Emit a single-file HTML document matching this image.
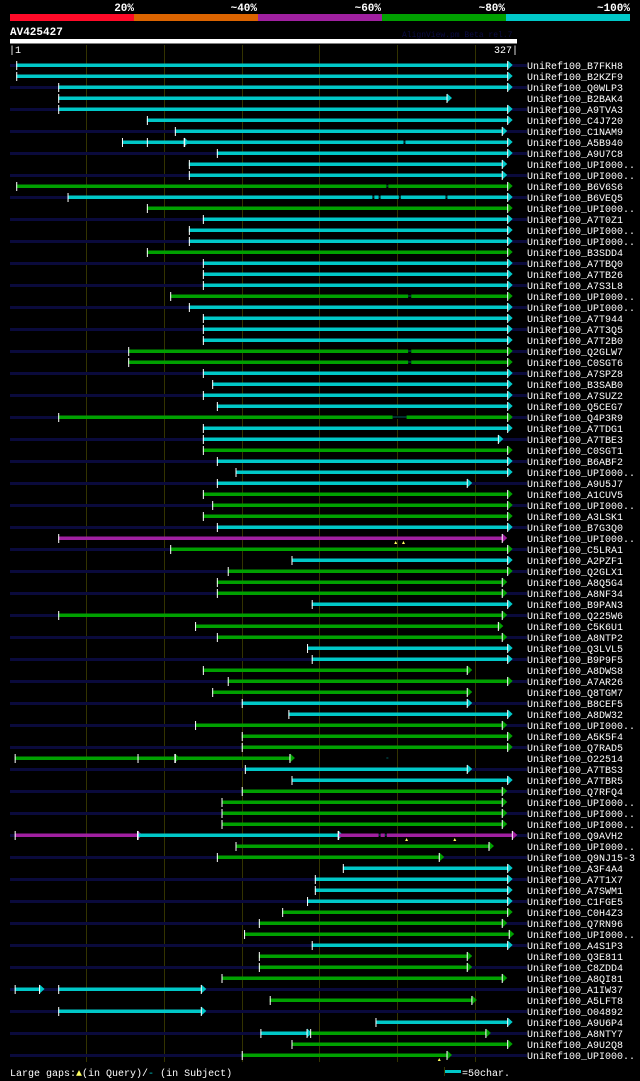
<!DOCTYPE html>
<html><head><meta charset="utf-8"><style>
body{margin:0;background:#000;width:640px;height:1081px;overflow:hidden}
svg{display:block}
text{font-family:"Liberation Mono",monospace;fill:#fff}
</style></head><body>
<svg id="c" width="640" height="1081" xmlns="http://www.w3.org/2000/svg">
<rect x="0" y="0" width="640" height="1081" fill="#000"/>
<g>
<rect x="10" y="14" width="124" height="7" fill="#ff0a28"/>
<rect x="134" y="14" width="124" height="7" fill="#dc6400"/>
<rect x="258" y="14" width="124" height="7" fill="#a020a0"/>
<rect x="382" y="14" width="124" height="7" fill="#00a000"/>
<rect x="506" y="14" width="124" height="7" fill="#00c8c8"/>
<text x="134" y="11" font-size="11" font-weight="bold" text-anchor="end">20%</text>
<text x="257" y="11" font-size="11" font-weight="bold" text-anchor="end">~40%</text>
<text x="381" y="11" font-size="11" font-weight="bold" text-anchor="end">~60%</text>
<text x="505" y="11" font-size="11" font-weight="bold" text-anchor="end">~80%</text>
<text x="630" y="11" font-size="11" font-weight="bold" text-anchor="end">~100%</text>
</g>
<text x="10" y="35" font-size="11" font-weight="bold">AV425427</text>
<text x="402" y="37" font-size="8" style="fill:#0c0c44">AlignView.pm Beta rel.7</text>
<rect x="10" y="39" width="507" height="4.5" fill="#fff"/>
<text x="9" y="53" font-size="10">|1</text>
<text x="518" y="53" font-size="10" text-anchor="end">327|</text>
<g id="grid"></g>
<g id="rows"></g>
<g>
<text x="10" y="1076" font-size="10">Large gaps:<tspan style="fill:#ffff60">▲</tspan>(in Query)/<tspan style="fill:#00c8c8">-</tspan> (in Subject)</text>
<rect x="445" y="1070" width="16" height="3" fill="#00c8c8"/>
<rect x="444" y="1067" width="1" height="9" fill="#333300"/>
<text x="462" y="1076" font-size="10">=50char.</text>
</g>
</svg>
<script>
const names=["B7FKH8","B2KZF9","Q0WLP3","B2BAK4","A9TVA3","C4J720","C1NAM9","A5B940","A9U7C8","UPI000..","UPI000..","B6V6S6","B6VEQ5","UPI000..","A7T0Z1","UPI000..","UPI000..","B3SDD4",
"A7TBQ0","A7TB26","A7S3L8","UPI000..","UPI000..","A7T944","A7T3Q5","A7T2B0","Q2GLW7","C0SGT6","A7SPZ8","B3SAB0","A7SUZ2","Q5CEG7","Q4P3R9","A7TDG1","A7TBE3","C0SGT1",
"B6ABF2","UPI000..","A9U5J7","A1CUV5","UPI000..","A3LSK1","B7G3Q0","UPI000..","C5LRA1","A2PZF1","Q2GLX1","A8Q5G4","A8NF34","B9PAN3","Q225W6","C5K6U1","A8NTP2","Q3LVL5",
"B9P9F5","A8DWS8","A7AR26","Q8TGM7","B8CEF5","A8DW32","UPI000..","A5K5F4","Q7RAD5","O22514","A7TBS3","A7TBR5","Q7RFQ4","UPI000..","UPI000..","UPI000..","Q9AVH2","UPI000..",
"Q9NJ15-3","A3F4A4","A7T1X7","A7SWM1","C1FGE5","C0H4Z3","Q7RN96","UPI000..","A4S1P3","Q3E811","C8ZDD4","A8QI81","A1IW37","A5LFT8","O04892","A9U6P4","A8NTY7","A9U2Q8","UPI000.."];
const hasNavy=[1,0,1,0,1,0,1,0,1,0,1,0,1,0,1,0,1,0, 1,0,1,0,1,0,1,0,1,0,1,0,1,0,1,0,1,0, 1,0,1,0,1,0,1,0,1,0,1,0,1,0,1,0,1,0, 1,0,1,0,1,0,1,0,1,0,1,0,1,0,1,0,1,0, 1,0,1,0,1,0,1,0,1,0,1,0,1,0,1,0,1,0,1];
// segments per row: [startResidue, endResidue, colourKey]
const segs=[
[[5,321,"c"]],[[5,321,"c"]],[[32,321,"c"]],[[32,282,"c"]],[[32,321,"c"]],[[89,321,"c"]],[[107,317.5,"c"]],[[73,113,"c"],[113,321,"c"]],[[134,321,"c"]],[[116,317.5,"c"]],[[116,317.5,"c"]],[[5,321,"g"]],[[38,321,"c"]],[[89,321,"g"]],[[125,321,"c"]],[[116,321,"c"]],[[116,321,"c"]],[[89,321,"g"]],
[[125,321,"c"]],[[125,321,"c"]],[[125,321,"c"]],[[104,321,"g"]],[[116,321,"c"]],[[125,321,"c"]],[[125,321,"c"]],[[125,321,"c"]],[[77,321,"g"]],[[77,321,"g"]],[[125,321,"c"]],[[131,321,"c"]],[[125,321,"c"]],[[134,321,"c"]],[[32,321,"g"]],[[125,321,"c"]],[[125,315,"c"]],[[125,321,"g"]],
[[134,321,"c"]],[[146,321,"c"]],[[134,295,"c"]],[[125,321,"g"]],[[131,321,"g"]],[[125,321,"g"]],[[134,321,"c"]],[[32,317.5,"m"]],[[104,321,"g"]],[[182,321,"c"]],[[141,321,"g"]],[[134,317.5,"g"]],[[134,317.5,"g"]],[[195,321,"c"]],[[32,317.5,"g"]],[[120,315,"g"]],[[134,317.5,"g"]],[[192,321,"c"]],
[[195,321,"c"]],[[125,295,"g"]],[[141,321,"g"]],[[131,295,"g"]],[[150,295,"c"]],[[180,321,"c"]],[[120,317.5,"g"]],[[150,321,"g"]],[[150,321,"g"]],[[4,107,"g"],[107,181,"g"]],[[152,295,"c"]],[[182,321,"c"]],[[150,317.5,"g"]],[[137,317.5,"g"]],[[137,317.5,"g"]],[[137,317.5,"g"]],[[4,83,"m"],[83,212,"c"],[212,324,"m"]],[[146,309,"g"]],
[[134,277,"g"]],[[215,321,"c"]],[[197,321,"c"]],[[197,321,"c"]],[[192,321,"c"]],[[176,321,"g"]],[[161,317.5,"g"]],[[151.5,322,"g"]],[[195,321,"c"]],[[161,295,"g"]],[[161,295,"g"]],[[137,317.5,"g"]],[[4,20,"c"],[32,124,"c"]],[[168,298,"g"]],[[32,124,"c"]],[[236,321,"c"]],[[162,192,"c"],[194,307,"g"]],[[182,321,"g"]],[[150,282,"g"]]
];
// extra start ticks [row, residue]
const extraTicks=[[7,89],[63,83],[70,83]];
// subject gaps [row, fromResidue, toResidue]
const gaps=[[7,254,255],[11,243,244],[12,234,235],[12,238,239],[12,251,252],[12,281,282],[21,257,259],[26,257,259],[27,257,259],[32,247,256],[63,243,244],[70,238,239],[70,242,243]];
// query gaps [row, residue]
const qgaps=[[43,249],[43,254],[70,256],[70,287],[90,277]];
const gridRes=[50,100,150,200,250,300];

const colours={c:"#00c8c8",g:"#00a000",m:"#a020a0"};
const NS="http://www.w3.org/2000/svg";
const xOf=r=>10+(r-1)*507/326;
const yOf=i=>65+i*11;
function mk(tag,attrs,parent){const e=document.createElementNS(NS,tag);for(const k in attrs)e.setAttribute(k,attrs[k]);parent.appendChild(e);return e;}
const grid=document.getElementById("grid"),rows=document.getElementById("rows");
gridRes.forEach(r=>{const l=mk("rect",{x:Math.round(xOf(r)),y:45,width:1,height:1017,fill:"#333300"},grid);

});
names.forEach((n,i)=>{
 const y=yOf(i);
 const g=mk("g",{},rows);
 
 
 if(hasNavy[i]){const nv=mk("rect",{x:10,y:y-1,width:517,height:3,fill:"#0a0a3c"},g);
  
  }
 segs[i].forEach(s=>{
  const x1=xOf(s[0]),x2=xOf(s[1]),col=colours[s[2]];
  const b=mk("rect",{x:x1,y:y-1.5,width:x2-x1,height:3.5,fill:col},g);
  
  
  const a=mk("polygon",{points:`${x2},${y-4.5} ${x2+5},${y} ${x2},${y+4.5}`,fill:col},g);
  
  
  const t=mk("rect",{x:x1,y:y-4,width:1,height:9,fill:"#fff"},g);
  
  
  const te=mk("rect",{x:x2-0.5,y:y-4,width:1,height:9,fill:"#fff"},g);
  
  
 });
 const lab=mk("text",{x:527,y:y+4,"font-size":"10"},g);
 lab.textContent="UniRef100_"+n;
 
 
});
extraTicks.forEach(t=>{const e=mk("rect",{x:xOf(t[1]),y:yOf(t[0])-4,width:1,height:9,fill:"#fff"},rows);
 
 });
gaps.forEach(gp=>{const y=yOf(gp[0]);
 const e=mk("rect",{x:xOf(gp[1]),y:y-1.5,width:Math.max(2,xOf(gp[2])-xOf(gp[1])),height:3.5,fill:"#000"},rows);
 
 
 const m=mk("rect",{x:xOf(gp[1]),y:y-0.5,width:Math.max(2,xOf(gp[2])-xOf(gp[1])),height:1,fill:"#006060"},rows);
 
 });
qgaps.forEach(q=>{const x=xOf(q[1]),y=yOf(q[0]);
 const e=mk("polygon",{points:`${x-1.5},${y+6} ${x},${y+3} ${x+1.5},${y+6}`,fill:"#ffff60"},rows);
 
 });
</script>
</body></html>
